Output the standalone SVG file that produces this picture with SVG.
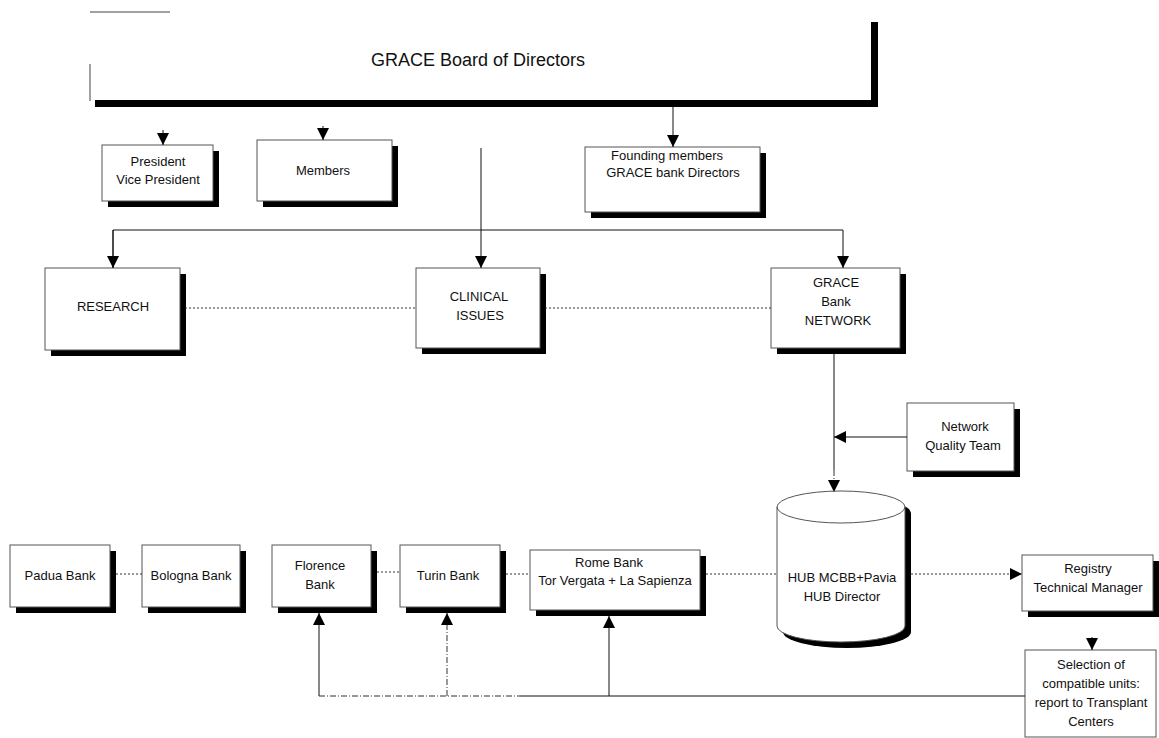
<svg xmlns="http://www.w3.org/2000/svg" width="1159" height="738" viewBox="0 0 1159 738">
<style>
.box{fill:#fff;stroke:#555;stroke-width:1}
.sh{fill:#000}
.t{font-family:"Liberation Sans",Arial,sans-serif;font-size:13px;fill:#111;text-anchor:middle}
.big{font-size:18px}
.ln{fill:none;stroke:#111;stroke-width:1}
.dot{fill:none;stroke:#333;stroke-width:1;stroke-dasharray:2 2}
.dd{fill:none;stroke:#333;stroke-width:1;stroke-dasharray:6 2 1 2}
</style>
<defs>
<marker id="ah" viewBox="0 0 10 10" refX="10" refY="5" markerWidth="12" markerHeight="12" markerUnits="userSpaceOnUse" orient="auto">
<path d="M0,0 L10,5 L0,10 Z" fill="#000"/>
</marker>
</defs>
<rect width="1159" height="738" fill="#fff"/>

<g id="board">
<line x1="90" y1="12" x2="170" y2="12" stroke="#444" stroke-width="1"/>
<line x1="90" y1="64" x2="90" y2="101" stroke="#444" stroke-width="1"/>
<path class="sh" d="M871,22 H878 V107 H95 V100 H871 Z"/>
<text class="t big" x="478" y="66">GRACE Board of Directors</text>
</g>

<g id="president">
<rect class="sh" x="108" y="151" width="111" height="56"/>
<rect class="box" x="102" y="145" width="111" height="56"/>
<text class="t" x="158" y="166">President</text>
<text class="t" x="158" y="184">Vice President</text>
</g>

<g id="members">
<rect class="sh" x="263" y="146" width="135" height="61"/>
<rect class="box" x="257" y="140" width="135" height="61"/>
<text class="t" x="323" y="175">Members</text>
</g>

<g id="founding">
<rect class="sh" x="591" y="153" width="175" height="65"/>
<rect class="box" x="585" y="147" width="175" height="65"/>
<text class="t" x="667" y="160">Founding members</text>
<text class="t" x="673" y="177">GRACE bank Directors</text>
</g>

<g id="research">
<rect class="sh" x="51" y="274" width="135" height="82"/>
<rect class="box" x="45" y="268" width="135" height="82"/>
<text class="t" x="113" y="311">RESEARCH</text>
</g>

<g id="clinical">
<rect class="sh" x="422" y="274" width="124" height="80"/>
<rect class="box" x="416" y="268" width="124" height="80"/>
<text class="t" x="479" y="301">CLINICAL</text>
<text class="t" x="480" y="320">ISSUES</text>
</g>

<g id="network">
<rect class="sh" x="777" y="274" width="129" height="80"/>
<rect class="box" x="771" y="268" width="129" height="80"/>
<text class="t" x="836" y="287">GRACE</text>
<text class="t" x="836" y="306">Bank</text>
<text class="t" x="838" y="325">NETWORK</text>
</g>

<g id="quality">
<rect class="sh" x="913" y="409" width="107" height="68"/>
<rect class="box" x="907" y="403" width="107" height="68"/>
<text class="t" x="965" y="431">Network</text>
<text class="t" x="963" y="450">Quality Team</text>
</g>

<g id="hub">
<path class="sh" d="M783,513 A64,16 0 0 1 911,513 V632 A64,16 0 0 1 783,632 Z"/>
<path class="box" d="M777,507 A64,16 0 0 1 905,507 V626 A64,16 0 0 1 777,626 Z"/>
<path d="M777,507 A64,16 0 0 0 905,507" fill="none" stroke="#555" stroke-width="1"/>
<text class="t" x="842" y="582">HUB MCBB+Pavia</text>
<text class="t" x="842" y="601">HUB Director</text>
</g>

<g id="padua">
<rect class="sh" x="16" y="551" width="100" height="62"/>
<rect class="box" x="10" y="545" width="100" height="62"/>
<text class="t" x="60" y="580">Padua Bank</text>
</g>

<g id="bologna">
<rect class="sh" x="148" y="551" width="98" height="62"/>
<rect class="box" x="142" y="545" width="98" height="62"/>
<text class="t" x="191" y="580">Bologna Bank</text>
</g>

<g id="florence">
<rect class="sh" x="278" y="551" width="99" height="62"/>
<rect class="box" x="272" y="545" width="99" height="62"/>
<text class="t" x="320" y="570">Florence</text>
<text class="t" x="320" y="589">Bank</text>
</g>

<g id="turin">
<rect class="sh" x="406" y="551" width="100" height="62"/>
<rect class="box" x="400" y="545" width="100" height="62"/>
<text class="t" x="448" y="580">Turin Bank</text>
</g>

<g id="rome">
<rect class="sh" x="536" y="556" width="170" height="60"/>
<rect class="box" x="530" y="550" width="170" height="60"/>
<text class="t" x="609" y="567">Rome Bank</text>
<text class="t" x="615" y="585">Tor Vergata + La Sapienza</text>
</g>

<g id="registry">
<rect class="sh" x="1028" y="561" width="131" height="56"/>
<rect class="box" x="1022" y="555" width="131" height="56"/>
<text class="t" x="1088" y="573">Registry</text>
<text class="t" x="1088" y="592">Technical Manager</text>
</g>

<g id="selection">
<rect class="box" x="1025" y="650" width="131" height="87"/>
<text class="t" x="1091" y="669">Selection of</text>
<text class="t" x="1091" y="688">compatible units:</text>
<text class="t" x="1091" y="707">report to Transplant</text>
<text class="t" x="1091" y="726">Centers</text>
</g>

<g id="connectors">
<path class="ln" d="M163,130 V145" marker-end="url(#ah)"/>
<path class="ln" d="M323,126 V140" marker-end="url(#ah)"/>
<path class="ln" d="M673,107 V147" marker-end="url(#ah)"/>
<path class="ln" d="M481,148 V268" marker-end="url(#ah)"/>
<path class="ln" d="M113,268 V230 H843 V268" marker-end="url(#ah)"/>
<path class="ln" d="M113,230 V268" marker-end="url(#ah)"/>
<path class="dot" d="M185,308 H416"/>
<path class="dot" d="M545,308 H771"/>
<path class="ln" d="M834,354 V470"/>
<path class="dd" d="M834,470 V492" marker-end="url(#ah)"/>
<path class="ln" d="M907,437 H834" marker-end="url(#ah)"/>
<path class="dot" d="M116,574 H142"/>
<path class="dot" d="M377,572 H400"/>
<path class="dot" d="M506,574 H530"/>
<path class="dot" d="M706,574 H777"/>
<path class="dot" d="M911,574 H1022" marker-end="url(#ah)"/>
<path class="ln" d="M1092,637 V650" marker-end="url(#ah)"/>
<path class="dd" d="M319,696 H520"/>
<path class="ln" d="M520,696 H1025"/>
<path class="ln" d="M319,696 V613" marker-end="url(#ah)"/>
<path class="dd" d="M447,696 V613" marker-end="url(#ah)"/>
<path class="ln" d="M609,696 V616" marker-end="url(#ah)"/>
</g>
</svg>
